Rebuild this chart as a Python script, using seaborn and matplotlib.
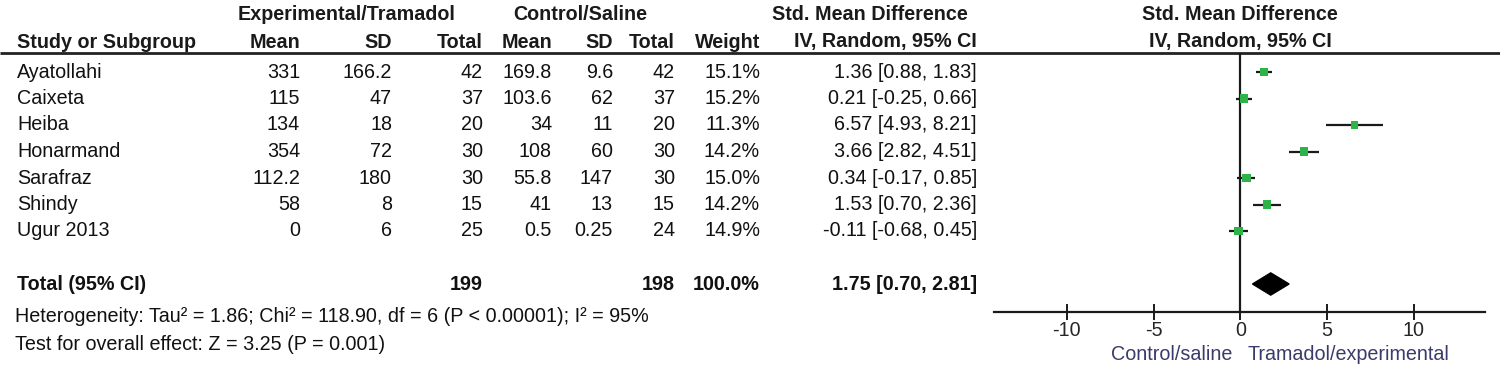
import matplotlib
matplotlib.use("Agg")
import matplotlib.pyplot as plt
import seaborn as sns
import pandas as pd

# study data
studies = ["Ayatollahi", "Caixeta", "Heiba", "Honarmand", "Sarafraz", "Shindy", "Ugur 2013"]
exp_mean = [331, 115, 134, 354, 112.2, 58, 0]
exp_sd = [166.2, 47, 18, 72, 180, 8, 6]
exp_n = [42, 37, 20, 30, 30, 15, 25]
ctl_mean = [169.8, 103.6, 34, 108, 55.8, 41, 0.5]
ctl_sd = [9.6, 62, 11, 60, 147, 13, 0.25]
ctl_n = [42, 37, 20, 30, 30, 15, 24]
weight = [15.1, 15.2, 11.3, 14.2, 15.0, 14.2, 14.9]
smd = [1.36, 0.21, 6.57, 3.66, 0.34, 1.53, -0.11]
ci_lo = [0.88, -0.25, 4.93, 2.82, -0.17, 0.70, -0.68]
ci_hi = [1.83, 0.66, 8.21, 4.51, 0.85, 2.36, 0.45]

total_exp, total_ctl, total_weight = 199, 198, 100.0
pooled, pooled_lo, pooled_hi = 1.75, 0.70, 2.81
xticks = [-10, -5, 0, 5, 10]

df = pd.DataFrame({"study": studies, "smd": smd, "lo": ci_lo, "hi": ci_hi,
                   "weight": weight, "row": range(len(studies))})

sns.set_theme(style="white")
plt.rcParams["font.family"] = ["Liberation Sans", "DejaVu Sans"]
FS = 14.2

fig = plt.figure(figsize=(15, 3.78), dpi=100)

# text layer in pixel coordinates
ax_t = fig.add_axes([0, 0, 1, 1])
ax_t.set_xlim(0, 1500)
ax_t.set_ylim(378, 0)
ax_t.axis("off")

def row_y(i):
    return 72 + 26.5 * i

# headers
hdr = dict(fontsize=FS, fontweight="bold", va="center", color="#1a1a1a")
ax_t.text(347, 15, "Experimental/Tramadol", ha="center", **hdr)
ax_t.text(580, 15, "Control/Saline", ha="center", **hdr)
ax_t.text(870, 15, "Std. Mean Difference", ha="center", **hdr)
ax_t.text(1240, 15, "Std. Mean Difference", ha="center", **hdr)
ax_t.text(17, 42, "Study or Subgroup", ha="left", **hdr)
for x, lab in [(300, "Mean"), (392, "SD"), (483, "Total"), (552, "Mean"),
               (613, "SD"), (675, "Total"), (760, "Weight"), (977, "IV, Random, 95% CI")]:
    ax_t.text(x, 42, lab, ha="right", **hdr)
ax_t.text(1240, 42, "IV, Random, 95% CI", ha="center", **hdr)
ax_t.hlines(53, 0, 1500, color="#222222", lw=2)

# study rows
cell = dict(fontsize=FS, va="center", color="#111111")
for i, s in enumerate(studies):
    y = row_y(i)
    ax_t.text(17, y, s, ha="left", **cell)
    ax_t.text(300, y, f"{exp_mean[i]:g}", ha="right", **cell)
    ax_t.text(392, y, f"{exp_sd[i]:g}", ha="right", **cell)
    ax_t.text(483, y, f"{exp_n[i]}", ha="right", **cell)
    ax_t.text(552, y, f"{ctl_mean[i]:g}", ha="right", **cell)
    ax_t.text(613, y, f"{ctl_sd[i]:g}", ha="right", **cell)
    ax_t.text(675, y, f"{ctl_n[i]}", ha="right", **cell)
    ax_t.text(760, y, f"{weight[i]:.1f}%", ha="right", **cell)
    ax_t.text(977, y, f"{smd[i]:.2f} [{ci_lo[i]:.2f}, {ci_hi[i]:.2f}]", ha="right", **cell)

# total row
yt = row_y(8)
bold = dict(fontsize=FS, va="center", fontweight="bold", color="#111111")
ax_t.text(17, yt, "Total (95% CI)", ha="left", **bold)
ax_t.text(483, yt, f"{total_exp}", ha="right", **bold)
ax_t.text(675, yt, f"{total_ctl}", ha="right", **bold)
ax_t.text(760, yt, f"{total_weight:.1f}%", ha="right", **bold)
ax_t.text(977, yt, f"{pooled:.2f} [{pooled_lo:.2f}, {pooled_hi:.2f}]", ha="right", **bold)
ax_t.text(15, 316, "Heterogeneity: Tau² = 1.86; Chi² = 118.90, df = 6 (P < 0.00001); I² = 95%",
          ha="left", **cell)
ax_t.text(15, 345, "Test for overall effect: Z = 3.25 (P = 0.001)", ha="left", **cell)

# forest panel
top, bottom, left, right = 53, 312, 994, 1485
ax = fig.add_axes([left / 1500, (378 - bottom) / 378, (right - left) / 1500, (bottom - top) / 378])
ax.patch.set_alpha(0)
ax.set_xlim(-14.2, 14.1)
ax.set_ylim((bottom - 72) / 26.5, (top - 72) / 26.5)

ax.hlines(df["row"], df["lo"], df["hi"], color="#1a1a1a", lw=1.6, zorder=2)
sns.scatterplot(data=df, x="smd", y="row", marker="s", color="#2db34a",
                edgecolor="none", s=[w * 2.6 for w in weight], ax=ax, zorder=3, legend=False)
ax.axvline(0, color="#1a1a1a", lw=1.6, zorder=1)

d_y, d_h = 8, 0.42
ax.fill([pooled_lo, pooled, pooled_hi, pooled], [d_y, d_y - d_h, d_y, d_y + d_h],
        color="black", zorder=3)

for sp in ["top", "left", "right"]:
    ax.spines[sp].set_visible(False)
ax.spines["bottom"].set_color("#1a1a1a")
ax.spines["bottom"].set_linewidth(1.6)
ax.set_yticks([])
ax.set_xticks(xticks)
ax.set_xticklabels([str(t) for t in xticks])
ax.tick_params(axis="x", direction="inout", length=11, width=1.4, color="#1a1a1a",
               labelsize=FS, pad=1, bottom=True)
ax.set_xlabel("")
ax.set_ylabel("")

ax_t.text(1232, 355, "Control/saline", ha="right", va="center", fontsize=FS, color="#3b3b6b")
ax_t.text(1247, 355, "Tramadol/experimental", ha="left", va="center", fontsize=FS, color="#3b3b6b")

fig.savefig("out.png", dpi=100)
